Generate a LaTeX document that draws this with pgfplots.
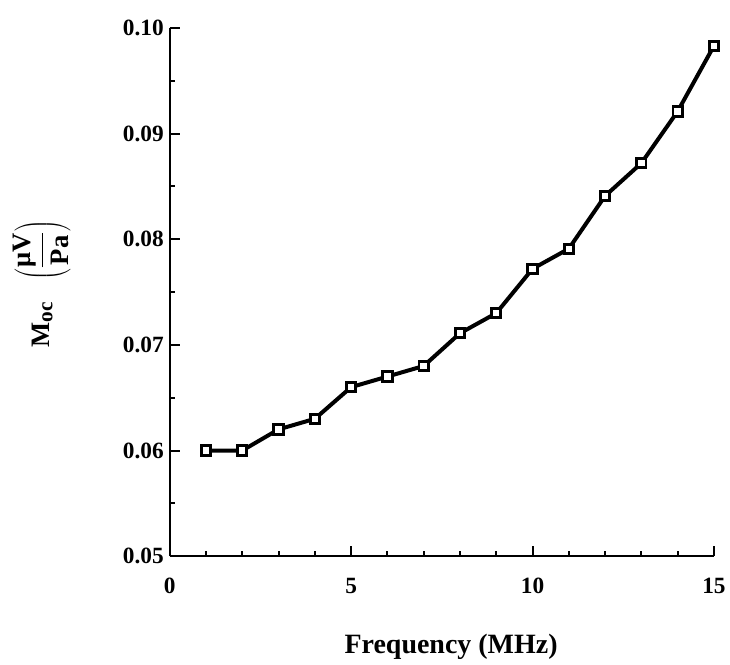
\documentclass[border=0pt]{standalone}
\usepackage{fontspec}
\setmainfont{Liberation Serif}
\usepackage{pgfplots}
\pgfplotsset{compat=1.18}
\begin{document}
\begin{tikzpicture}
\begin{axis}[
  scale only axis,
  width=408.75pt, height=396.75pt,
  xmin=0, xmax=15, ymin=0.05, ymax=0.10,
  axis x line*=bottom, axis y line*=left,
  axis line style={line width=1.5pt,-},
  xtick={0,5,10,15}, ytick={0.05,0.06,0.07,0.08,0.09,0.10},
  minor x tick num=4, minor y tick num=1,
  tick align=inside,
  major tick length=7.5pt, minor tick length=4pt,
  tick style={line width=1.5pt, black},
  scaled y ticks=false,
  /pgf/number format/assume math mode=true,
  yticklabel style={/pgf/number format/fixed, /pgf/number format/fixed zerofill, /pgf/number format/precision=2, font=\fontsize{17.5}{20}\selectfont\bfseries, xshift=-1pt},
  xticklabel style={font=\fontsize{17.5}{20}\selectfont\bfseries, yshift=-13pt},
  clip=false,
  xlabel={Frequency (MHz)},
  xlabel style={font=\fontsize{21}{24}\selectfont\bfseries, at={(axis description cs:0.517,-0.172)}, anchor=center},
  ylabel={\textbf{M\raisebox{-0.25ex}{\fontsize{16}{18}\selectfont oc}}\hspace{16pt}$\displaystyle\left(\frac{\mbox{\textbf{μV}}}{\mbox{\textbf{Pa}}}\right)$},
  ylabel style={font=\fontsize{20}{24}\selectfont\bfseries, at={(axis description cs:-0.235,0.516)}, anchor=center},
]
\addplot[black, line width=3pt, mark=square*, mark size=3.5pt, mark options={fill=white, draw=black, line width=2.2pt}]
  coordinates {
  (1,0.0600) (2,0.0600) (3,0.0620) (4,0.0630) (5,0.0660)
  (6,0.0670) (7,0.0680) (8,0.0711) (9,0.0730) (10,0.0772)
  (11,0.0791) (12,0.0841) (13,0.0872) (14,0.0921) (15,0.0983)
  };
\path[draw=none] ([xshift=-127.5pt,yshift=-76.5pt]axis cs:0,0.05) rectangle ([xshift=11.25pt,yshift=21pt]axis cs:15,0.10);
\end{axis}
\end{tikzpicture}
\end{document}
